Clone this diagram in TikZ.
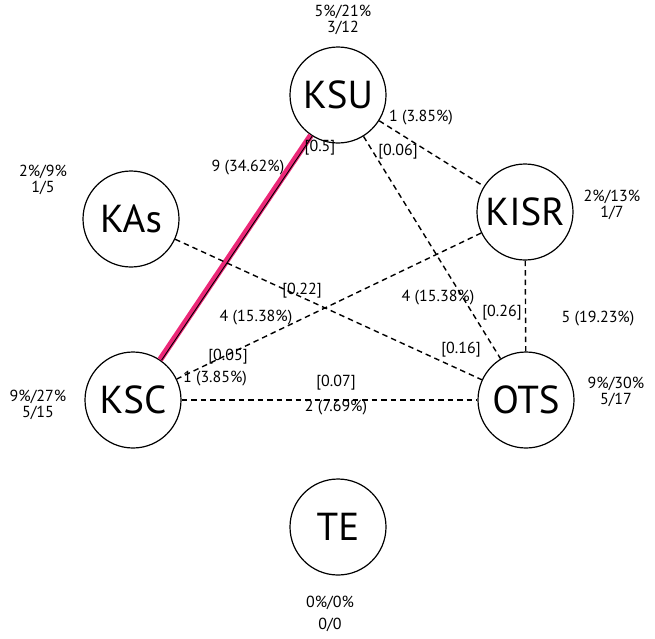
\documentclass[tikz,border=0pt]{standalone}
\usepackage{fontspec}
\setmainfont{PT Sans}
\begin{document}
\begin{tikzpicture}[x=1pt,y=-1pt,
  org/.style={circle,draw,line width=1.2pt,minimum size=96pt,inner sep=0pt,
    font=\fontsize{39}{41}\selectfont},
  lbl/.style={font=\fontsize{16}{15.5}\selectfont,inner sep=0pt,align=center},
  link/.style={line width=1.4pt,dash pattern=on 5.5pt off 4pt},
  strong/.style={line width=6pt,draw=hotpink}]
\definecolor{hotpink}{RGB}{236,40,120}
\useasboundingbox (0,0) rectangle (655,638);

% organisations
\node[org] (ksu)  at (338,95)  {KSU};
\node[org] (kas)  at (131,219) {KAs};
\node[org] (kisr) at (525,212) {KISR};
\node[org] (ksc)  at (133,400) {KSC};
\node[org] (ots)  at (526,400) {OTS};
\node[org] (te)   at (338,527) {TE};

% shares and counts per organisation
\node[lbl] (ksuS)  at (343,20)  {5\%/21\%\\3/12};
\node[lbl] (kasS)  at (43,180)  {2\%/9\%\\1/5};
\node[lbl] (kisrS) at (612,205) {2\%/13\%\\1/7};
\node[lbl] (kscS)  at (38,405)  {9\%/27\%\\5/15};
\node[lbl] (otsS)  at (616,392) {9\%/30\%\\5/17};
\node[lbl] (teS)   at (330,614) {0\%/0\%\\[7pt]0/0};

% collaboration links
\draw[strong] (ksu) -- (ksc);
\draw[line width=0.9pt,transform canvas={xshift=1.4pt,yshift=-0.6pt}] (ksu) -- (ksc);
\draw[link] (ksu) -- (kisr);
\draw[link] (ksu) -- (ots);
\draw[link] (kas) -- (ots);
\draw[link] (kisr) -- (ksc);
\draw[link] (kisr) -- (ots);
\draw[link] (ksc) -- (ots);

% link labels
\node[lbl] (l1a) at (248,168) {9 (34.62\%)};
\node[lbl] (l1b) at (320,148) {[0.5]};
\node[lbl] (l2a) at (421,118) {1 (3.85\%)};
\node[lbl] (l2b) at (398,152) {[0.06]};
\node[lbl] (l3a) at (438,298) {4 (15.38\%)};
\node[lbl] (l3b) at (461,350) {[0.16]};
\node[lbl] (l4a) at (256,318) {4 (15.38\%)};
\node[lbl] (l4b) at (302,291) {[0.22]};
\node[lbl] (l5a) at (215,379) {1 (3.85\%)};
\node[lbl] (l5b) at (228,357) {[0.05]};
\node[lbl] (l6a) at (598,319) {5 (19.23\%)};
\node[lbl] (l6b) at (502,313) {[0.26]};
\node[lbl] (l7a) at (336,408) {2 (7.69\%)};
\node[lbl] (l7b) at (336,383) {[0.07]};
\end{tikzpicture}
\end{document}
